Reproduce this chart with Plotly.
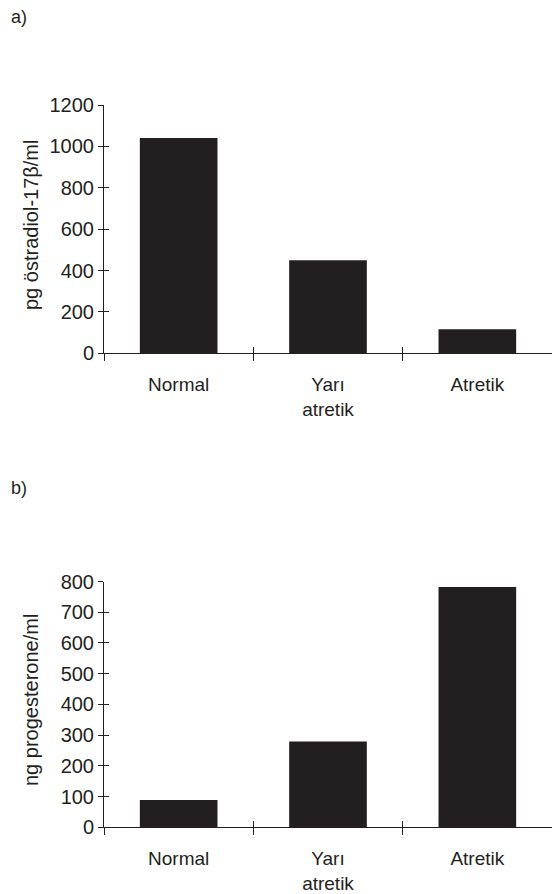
import plotly.graph_objects as go

categories = ["Normal", "Yarı<br>atretik", "Atretik"]
estradiol = [1040, 450, 116]
progesterone = [89, 279, 782]
estradiol_ticks = [0, 200, 400, 600, 800, 1000, 1200]
progesterone_ticks = [0, 100, 200, 300, 400, 500, 600, 700, 800]

W, H = 552, 894
INK = "#231f20"
FONT = "Liberation Sans"
ML = 104


def py(px):
    return 1 - px / H


fig = go.Figure()
bar_style = dict(marker=dict(color=INK, line=dict(width=0)), width=0.52, hoverinfo="skip")
fig.add_trace(go.Bar(x=categories, y=estradiol, xaxis="x", yaxis="y", **bar_style))
fig.add_trace(go.Bar(x=categories, y=progesterone, xaxis="x2", yaxis="y2", **bar_style))
# invisible traces so the inner tick halves (overlay axes) get drawn
fig.add_trace(go.Scatter(x=categories, y=estradiol, xaxis="x3", yaxis="y3", mode="markers",
                         marker=dict(opacity=0), hoverinfo="skip"))
fig.add_trace(go.Scatter(x=categories, y=progesterone, xaxis="x4", yaxis="y4", mode="markers",
                         marker=dict(opacity=0), hoverinfo="skip"))

base = dict(showgrid=False, zeroline=False, linecolor=INK, linewidth=1, tickcolor=INK, tickwidth=1,
            automargin=False)
xfont = dict(family=FONT, size=19, color=INK)
yfont = dict(family=FONT, size=20, color=INK)

top_dom = [py(353.3), py(105)]
bot_dom = [py(827.3), py(581.5)]

fig.update_layout(
    template="none",
    xaxis=dict(**base, anchor="y", domain=[0, 1], range=[-0.5, 2.5], showline=True, ticks="outside",
               ticklen=7, tickson="boundaries", tickfont=xfont, ticklabelstandoff=14),
    yaxis=dict(**base, anchor="x", domain=top_dom, range=[0, 1200], tickvals=estradiol_ticks,
               showline=True, ticks="outside", ticklen=5, tickfont=yfont),
    xaxis2=dict(**base, anchor="y2", domain=[0, 1], range=[-0.5, 2.5], showline=True, ticks="outside",
                ticklen=7, tickson="boundaries", tickfont=xfont, ticklabelstandoff=14),
    yaxis2=dict(**base, anchor="x2", domain=bot_dom, range=[0, 800], tickvals=progesterone_ticks,
                showline=True, ticks="outside", ticklen=5, tickfont=yfont),
    xaxis3=dict(**base, overlaying="x", anchor="y3", range=[-0.5, 2.5], showline=False, ticks="inside",
                ticklen=6, tickson="boundaries", showticklabels=False),
    yaxis3=dict(**base, overlaying="y", anchor="x3", range=[0, 1200], tickvals=estradiol_ticks,
                showline=False, ticks="inside", ticklen=5, showticklabels=False),
    xaxis4=dict(**base, overlaying="x2", anchor="y4", range=[-0.5, 2.5], showline=False, ticks="inside",
                ticklen=6, tickson="boundaries", showticklabels=False),
    yaxis4=dict(**base, overlaying="y2", anchor="x4", range=[0, 800], tickvals=progesterone_ticks,
                showline=False, ticks="inside", ticklen=5, showticklabels=False),
)

title_font = dict(family=FONT, size=20, color=INK)
fig.add_annotation(text="pg östradiol-17β/ml", textangle=-90, xref="paper", yref="paper",
                   x=(31 - ML) / (W - ML), y=py(225), xanchor="center", yanchor="middle",
                   showarrow=False, font=title_font)
fig.add_annotation(text="ng progesterone/ml", textangle=-90, xref="paper", yref="paper",
                   x=(31 - ML) / (W - ML), y=py(700), xanchor="center", yanchor="middle",
                   showarrow=False, font=title_font)
fig.add_annotation(text="a)", xref="paper", yref="paper", x=(19 - ML) / (W - ML), y=py(17),
                   xanchor="center", yanchor="middle", showarrow=False,
                   font=dict(family=FONT, size=18, color=INK))
fig.add_annotation(text="b)", xref="paper", yref="paper", x=(19 - ML) / (W - ML), y=py(488),
                   xanchor="center", yanchor="middle", showarrow=False,
                   font=dict(family=FONT, size=18, color=INK))

fig.update_layout(
    width=W, height=H, autosize=False, showlegend=False,
    margin=dict(l=ML, r=0, t=0, b=0, pad=0),
    plot_bgcolor="white", paper_bgcolor="white",
)

fig.write_html(
    "out.html",
    config={"displayModeBar": False},
    post_script="document.documentElement.style.margin='0';document.body.style.margin='0';"
                "document.body.style.padding='0';document.body.style.overflow='hidden';",
)
